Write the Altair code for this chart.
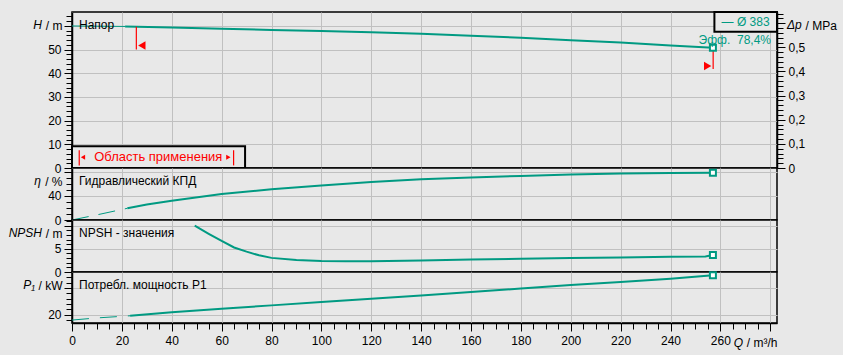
import altair as alt
import pandas as pd

# ---------------- data ----------------
# Head curve H(Q)
Q_H = [0, 21.3, 40, 60, 80, 100, 120, 140, 160, 180, 200, 220, 240, 257]
H_VALS = [60.0, 59.8, 59.3, 58.8, 58.3, 57.9, 57.3, 56.7, 55.9, 55.0, 54.0, 53.0, 51.8, 50.8]
H_THICK_FROM = 21.3

# Hydraulic efficiency
Q_ETA = [0, 10, 22.2, 30, 40, 60, 80, 100, 120, 140, 160, 180, 200, 220, 240, 257]
ETA_VALS = [0, 8.5, 19.4, 25.5, 32, 43, 51, 57, 63, 67.5, 70.5, 73, 75.2, 76.8, 78, 78.4]
ETA_SOLID_FROM = 22.2

# NPSH
Q_NPSH = [49.2, 55, 60, 65, 70, 75, 80, 90, 100, 110, 120, 140, 160, 180, 200, 220, 240, 254, 257]
NPSH_VALS = [10.0, 8.2, 6.7, 5.3, 4.4, 3.6, 3.05, 2.6, 2.35, 2.3, 2.3, 2.5, 2.7, 2.85, 3.0, 3.15, 3.3, 3.35, 3.65]

# Power input P1
Q_P = [0, 10, 23.3, 40, 60, 80, 100, 120, 140, 160, 180, 200, 220, 240, 257]
P_VALS = [18.0, 18.8, 19.6, 20.9, 22.2, 23.5, 24.8, 26.0, 27.2, 28.5, 29.8, 31.1, 32.3, 33.5, 34.8]
P_SOLID_FROM = 23.3

# duty point
DUTY_Q = 257
DUTY_H, DUTY_ETA, DUTY_NPSH, DUTY_P = 50.8, 78.4, 3.65, 34.8
DUTY_TEXT = "Эфф.\u00a0 78,4%"
IMPELLER_TEXT = "— Ø 383"

# application range markers (Q, H)
APP_RULE_Q = [25.8, 257.1]
APP_RULE_TOP = [59.7, 50.8]
APP_RULE_BOT = [50.1, 41.8]
APP_TRI_Q = [28.0, 254.9]
APP_TRI_H = [51.7, 43.1]
APP_TRI_SHAPE = ["triangle-left", "triangle-right"]

# "application range" box in the head panel
BOX_Q = [0, 69.4]
BOX_H = [0, 9.2]
BOX_TEXT = "Область применения"
BOX_TEXT_Q = 34.6
BOX_BAR_Q = [2.9, 64.8]
BOX_BAR_H = [1.1, 7.5]
BOX_TRI_Q = [4.4, 62.7]
BOX_MID_H = 4.5
BOX_TRI_SHAPE = ["triangle-left", "triangle-right"]

# impeller legend box
LEG_Q = [257.6, 282.7]
LEG_H = [57.6, 65.9]
LEG_TEXT_Q = 270.1

PANEL_LABELS = ["Напор", "Гидравлический КПД", "NPSH - значения", "Потребл. мощность P1"]

# axis titles: (italic symbol, unit)
T_H = ("H", "/ m")
T_ETA = ("η", "/ %")
T_NPSH = ("NPSH", "/ m")
T_P = ("P₁", "/ kW")
T_DP = ("Δp", "/ MPa")
T_Q = ("Q", "/ m³/h")

# ---------------- style ----------------
TEAL = "#009a82"
RED = "#ff0000"
BG = "#e8e8e8"
GRID = "#c0c0c0"
FONT = "Liberation Sans"

W = 705
HH, HE, HN, HP = 156, 52, 52, 51
X_DOMAIN = [0, 282.7]
H_DOMAIN = [0, 65.9]
DP_DOMAIN = [0, 65.9 * 0.00981]
ETA_DOMAIN = [0, 86.1]
NPSH_DOMAIN = [0, 11.23]
P_DOMAIN = [16.9, 36.0]


def cond(test, a, b):
    return {"condition": {"test": test, "value": a}, "value": b}


def left_axis(values, major, label, title):
    return alt.Axis(
        values=values,
        labelExpr=f"({label}) ? datum.label : ''",
        tickSize=cond(major, 8, 6),
        gridOpacity=cond(major, 1, 0),
        grid=True, labelOverlap=False, labelFlush=False, labelPadding=3,
        title=title, titleAngle=0, titleAlign="right", titleBaseline="middle",
        titleX=-10, titleY=13,
    )


AX_X_TOP = alt.Axis(values=list(range(0, 281, 20)), labels=False, ticks=False,
                    domain=False, title=None, grid=True)
AX_X_BOT = alt.Axis(
    values=list(range(0, 281, 5)),
    labelExpr="(datum.value % 20 === 0 && datum.value <= 260) ? datum.label : ''",
    tickSize=cond("datum.value % 20 === 0", 8, 6),
    gridOpacity=cond("datum.value % 20 === 0", 1, 0),
    grid=True, labelOverlap=False, labelFlush=False, labelPadding=4,
    title=T_Q[1], titleAlign="right", titleBaseline="middle",
    titleX=W, titleY=19.5,
)
AX_H = left_axis(list(range(0, 65, 2)), "datum.value % 10 === 0",
                 "datum.value % 10 === 0 && datum.value <= 50", T_H[1])
AX_ETA = left_axis(list(range(0, 90, 10)), "datum.value % 40 === 0",
                   "datum.value % 40 === 0 && datum.value < 80", T_ETA[1])
AX_NPSH = left_axis(list(range(0, 12, 1)), "datum.value % 5 === 0",
                    "datum.value % 5 === 0 && datum.value < 10", T_NPSH[1])
AX_P = left_axis(list(range(18, 35, 2)), "datum.value % 10 === 0",
                 "datum.value === 20", T_P[1])
DP_MAJOR = "abs(datum.value*10 - round(datum.value*10)) < 1e-6"
AX_DP = alt.Axis(
    orient="right",
    values=[round(i * 0.02, 2) for i in range(33)],
    labelExpr=f"({DP_MAJOR} && datum.value < 0.55) ? (datum.value == 0 ? '0' : replace(format(datum.value, '.1f'), '.', ',')) : ''",
    tickSize=cond(DP_MAJOR, 8, 6),
    grid=False, labelOverlap=False, labelFlush=False, labelPadding=3,
    title=T_DP[1], titleAngle=0, titleAlign="left", titleBaseline="middle",
    titleX=28, titleY=13,
)

XS = alt.Scale(domain=X_DOMAIN, nice=False, zero=False)


def xe(field, axis):
    return alt.X(field, type="quantitative", scale=XS, axis=axis)


def ye(field, domain, axis):
    return alt.Y(field, type="quantitative",
                 scale=alt.Scale(domain=domain, nice=False, zero=False), axis=axis)


def label_layer(text):
    return alt.Chart(pd.DataFrame({"t": [text]})).mark_text(
        align="left", baseline="middle", fontSize=12, color="black"
    ).encode(x=alt.value(7), y=alt.value(13), text="t:N")


def symbol_layer(text, x, y, align="right"):
    # italic quantity symbol that precedes the unit of an axis title
    return alt.Chart(pd.DataFrame({"t": [text]})).mark_text(
        align=align, baseline="middle", fontSize=12, fontStyle="italic", color="black"
    ).encode(x=alt.value(x), y=alt.value(y), text="t:N")


def marker_layer(q, v, domain, axis, xaxis):
    return alt.Chart(pd.DataFrame({"Q": [q], "v": [v]})).mark_square(
        size=36, filled=True, fill="white", stroke=TEAL, strokeWidth=2, opacity=1
    ).encode(x=xe("Q", xaxis), y=ye("v", domain, axis))


# ---------------- head panel ----------------
dfH = pd.DataFrame({"Q": Q_H, "H": H_VALS})
yH = lambda f: ye(f, H_DOMAIN, AX_H)
xT = lambda f: xe(f, AX_X_TOP)

box = alt.Chart(pd.DataFrame({"q1": [BOX_Q[0]], "q2": [BOX_Q[1]], "h1": [BOX_H[0]], "h2": [BOX_H[1]]})).mark_rect(
    fill=BG, stroke="black", strokeWidth=2).encode(x=xT("q1"), x2=alt.X2("q2"), y=yH("h1"), y2=alt.Y2("h2"))
box_text = alt.Chart(pd.DataFrame({"q": [BOX_TEXT_Q], "h": [BOX_MID_H], "t": [BOX_TEXT]})).mark_text(
    fontSize=13, color=RED, baseline="middle").encode(x=xT("q"), y=yH("h"), text="t:N")
box_bars = alt.Chart(pd.DataFrame({"q": BOX_BAR_Q, "h1": [BOX_BAR_H[0]] * 2, "h2": [BOX_BAR_H[1]] * 2})).mark_rule(
    color=RED, strokeWidth=1.2).encode(x=xT("q"), y=yH("h1"), y2=alt.Y2("h2"))
box_tris = alt.Chart(pd.DataFrame({"q": BOX_TRI_Q, "h": [BOX_MID_H] * 2, "s": BOX_TRI_SHAPE})).mark_point(
    filled=True, color=RED, size=25, opacity=1).encode(x=xT("q"), y=yH("h"), shape=alt.Shape("s:N", scale=None))

h_thin = alt.Chart(dfH[dfH.Q <= H_THICK_FROM]).mark_line(color=TEAL, strokeWidth=1).encode(x=xT("Q"), y=yH("H"))
h_thick = alt.Chart(dfH[dfH.Q >= H_THICK_FROM]).mark_line(color=TEAL, strokeWidth=2).encode(x=xT("Q"), y=yH("H"))
app_rules = alt.Chart(pd.DataFrame({"q": APP_RULE_Q, "h1": APP_RULE_BOT, "h2": APP_RULE_TOP})).mark_rule(
    color=RED, strokeWidth=1.2).encode(x=xT("q"), y=yH("h1"), y2=alt.Y2("h2"))
app_tris = alt.Chart(pd.DataFrame({"q": APP_TRI_Q, "h": APP_TRI_H, "s": APP_TRI_SHAPE})).mark_point(
    filled=True, color=RED, size=72, opacity=1).encode(x=xT("q"), y=yH("h"), shape=alt.Shape("s:N", scale=None))
h_marker = marker_layer(DUTY_Q, DUTY_H, H_DOMAIN, AX_H, AX_X_TOP)
duty_text = alt.Chart(pd.DataFrame({"q": [280.3], "h": [54.1], "t": [DUTY_TEXT]})).mark_text(
    align="right", baseline="middle", fontSize=12, color=TEAL).encode(x=xT("q"), y=yH("h"), text="t:N")
leg_box = alt.Chart(pd.DataFrame({"q1": [LEG_Q[0]], "q2": [LEG_Q[1]], "h1": [LEG_H[0]], "h2": [LEG_H[1]]})).mark_rect(
    fill=BG, stroke="black", strokeWidth=2).encode(x=xT("q1"), x2=alt.X2("q2"), y=yH("h1"), y2=alt.Y2("h2"))
leg_text = alt.Chart(pd.DataFrame({"q": [LEG_TEXT_Q], "h": [61.7], "t": [IMPELLER_TEXT]})).mark_text(
    baseline="middle", fontSize=12, color=TEAL).encode(x=xT("q"), y=yH("h"), text="t:N")

inner_H = alt.layer(box, box_bars, box_tris, box_text, h_thin, h_thick, app_rules, app_tris,
                    h_marker, duty_text, leg_box, leg_text, label_layer(PANEL_LABELS[0]),
                    symbol_layer(T_H[0], -30, 13), symbol_layer(T_DP[0], W + 10, 13, align="left"))
dp_layer = alt.Chart(dfH).transform_calculate(p="datum.H * 0.00981").mark_line(strokeOpacity=0).encode(
    x=xT("Q"), y=ye("p", DP_DOMAIN, AX_DP))
panel_H = alt.layer(inner_H, dp_layer).resolve_scale(y="independent").properties(width=W, height=HH)

# ---------------- efficiency panel ----------------
dfE = pd.DataFrame({"Q": Q_ETA, "eta": ETA_VALS})
yE = lambda f: ye(f, ETA_DOMAIN, AX_ETA)
e_dash = alt.Chart(dfE[dfE.Q <= ETA_SOLID_FROM]).mark_line(color=TEAL, strokeWidth=1, strokeDash=[17, 10]).encode(
    x=xT("Q"), y=yE("eta"))
e_solid = alt.Chart(dfE[dfE.Q >= ETA_SOLID_FROM]).mark_line(color=TEAL, strokeWidth=2).encode(
    x=xT("Q"), y=yE("eta"))
panel_E = alt.layer(e_dash, e_solid, marker_layer(DUTY_Q, DUTY_ETA, ETA_DOMAIN, AX_ETA, AX_X_TOP),
                    label_layer(PANEL_LABELS[1]), symbol_layer(T_ETA[0], -31, 13)).properties(width=W, height=HE)

# ---------------- NPSH panel ----------------
dfN = pd.DataFrame({"Q": Q_NPSH, "npsh": NPSH_VALS})
n_line = alt.Chart(dfN).mark_line(color=TEAL, strokeWidth=2).encode(x=xT("Q"), y=ye("npsh", NPSH_DOMAIN, AX_NPSH))
panel_N = alt.layer(n_line, marker_layer(DUTY_Q, DUTY_NPSH, NPSH_DOMAIN, AX_NPSH, AX_X_TOP),
                    label_layer(PANEL_LABELS[2]), symbol_layer(T_NPSH[0], -30, 13)).properties(width=W, height=HN)

# ---------------- power panel ----------------
dfP = pd.DataFrame({"Q": Q_P, "P": P_VALS})
xB = lambda f: xe(f, AX_X_BOT)
yP = lambda f: ye(f, P_DOMAIN, AX_P)
p_dash = alt.Chart(dfP[dfP.Q <= P_SOLID_FROM]).mark_line(color=TEAL, strokeWidth=1, strokeDash=[17, 11]).encode(
    x=xB("Q"), y=yP("P"))
p_solid = alt.Chart(dfP[dfP.Q >= P_SOLID_FROM]).mark_line(color=TEAL, strokeWidth=2).encode(
    x=xB("Q"), y=yP("P"))
panel_P = alt.layer(p_dash, p_solid, marker_layer(DUTY_Q, DUTY_P, P_DOMAIN, AX_P, AX_X_BOT),
                    label_layer(PANEL_LABELS[3]), symbol_layer(T_P[0], -37, 13),
                    symbol_layer(T_Q[0], W - 34, HP + 19.5)).properties(width=W, height=HP)

chart = alt.vconcat(panel_H, panel_E, panel_N, panel_P, spacing=0, bounds="flush").resolve_scale(
    y="independent"
).properties(
    padding={"left": 7, "top": 6, "right": 5, "bottom": 5},
    background=BG,
).configure(font=FONT).configure_view(
    stroke="black", strokeWidth=1.5, fill=BG
).configure_axis(
    labelFont=FONT, labelFontSize=12, labelColor="black",
    titleFont=FONT, titleFontSize=12, titleFontWeight="normal", titleColor="black",
    gridColor=GRID, gridWidth=1, domainColor="black", tickColor="black", domainWidth=1.5,
)

chart.save("out.html", embed_options={"renderer": "svg", "actions": False})
